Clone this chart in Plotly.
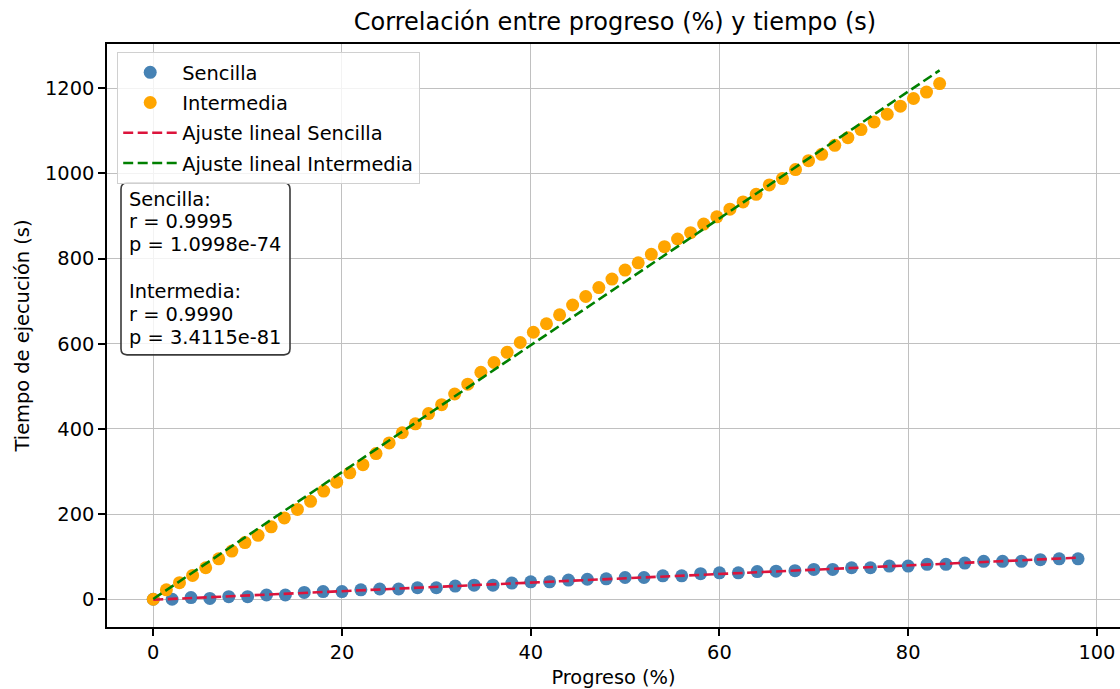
import numpy as np
import plotly.graph_objects as go

# ---------------- data ----------------
sencilla_x = [0, 2, 4, 6, 8, 10, 12, 14, 16, 18, 20, 22, 24, 26, 28, 30, 32, 34, 36, 38,
              40, 42, 44, 46, 48, 50, 52, 54, 56, 58, 60, 62, 64, 66, 68, 70, 72, 74, 76, 78,
              80, 82, 84, 86, 88, 90, 92, 94, 96, 98]
sencilla_y = [0, 0, 4, 2, 6, 6, 10, 10, 16, 18, 18, 22, 24, 24, 27, 27, 31, 33, 33, 38,
              41, 41, 45, 47, 48, 51, 51, 55, 55, 60, 62, 62, 65, 66, 67, 70, 70, 74, 74, 78,
              78, 82, 82, 85, 89, 89, 89, 93, 95, 95]

intermedia_x = [0, 1.39, 2.78, 4.17, 5.56, 6.94, 8.33, 9.72, 11.11, 12.5, 13.89, 15.28,
                16.67, 18.06, 19.44, 20.83, 22.22, 23.61, 25.0, 26.39, 27.78, 29.17, 30.56,
                31.94, 33.33, 34.72, 36.11, 37.5, 38.89, 40.28, 41.67, 43.06, 44.44, 45.83,
                47.22, 48.61, 50.0, 51.39, 52.78, 54.17, 55.56, 56.94, 58.33, 59.72, 61.11,
                62.5, 63.89, 65.28, 66.67, 68.06, 69.44, 70.83, 72.22, 73.61, 75.0, 76.39,
                77.78, 79.17, 80.56, 81.94, 83.33]
intermedia_y = [0, 22, 39, 56, 74, 95, 113, 133, 150, 170, 191, 211, 230, 254, 275, 297,
                316, 342, 367, 391, 412, 436, 457, 482, 505, 533, 556, 580, 603, 627, 647,
                668, 691, 711, 732, 752, 773, 790, 810, 828, 846, 861, 881, 898, 916, 933,
                951, 973, 988, 1009, 1030, 1045, 1066, 1084, 1103, 1121, 1139, 1158, 1176,
                1191, 1211]

stats_lines = ["Sencilla:", "r = 0.9995", "p = 1.0998e-74", "",
               "Intermedia:", "r = 0.9990", "p = 3.4115e-81"]

x_ticks = [0, 20, 40, 60, 80, 100]
y_ticks = [0, 200, 400, 600, 800, 1000, 1200]

# ---------------- linear fits ----------------
xs = np.array(sencilla_x, dtype=float)
ys = np.array(sencilla_y, dtype=float)
xi = np.array(intermedia_x, dtype=float)
yi = np.array(intermedia_y, dtype=float)
ms, bs = np.polyfit(xs, ys, 1)
mi, bi = np.polyfit(xi, yi, 1)

FONT = "DejaVu Sans"
FS = 19.4

# page body margin is removed below, so figure pixels == screen pixels
SL, ST, SB = 107, 44, 627.3          # screen positions of plot left/top/bottom
W, H = 1120, 689
L = SL
T = ST
B = H - SB
R = 0
plot_w = W - L - R
plot_h = H - T - B
PX_PER_X = 9.437                      # horizontal scale
x_lo = -4.9
x_hi = x_lo + plot_w / PX_PER_X


def scr_to_paper(sx, sy):
    return (sx - SL) / plot_w, (SB - sy) / plot_h


fig = go.Figure()
fig.add_trace(go.Scatter(x=sencilla_x, y=sencilla_y, mode="markers", name="Sencilla",
                         legendgroup="a",
                         marker=dict(color="steelblue", size=13, line=dict(width=0))))
fig.add_trace(go.Scatter(x=intermedia_x, y=intermedia_y, mode="markers", name="Intermedia",
                         legendgroup="b",
                         marker=dict(color="orange", size=13, line=dict(width=0))))
fig.add_trace(go.Scatter(x=xs, y=ms * xs + bs, mode="lines", name="Ajuste lineal Sencilla",
                         legendgroup="c",
                         line=dict(color="crimson", width=2.6, dash="10px,4.5px")))
fig.add_trace(go.Scatter(x=xi, y=mi * xi + bi, mode="lines", name="Ajuste lineal Intermedia",
                         legendgroup="d",
                         line=dict(color="green", width=2.6, dash="10px,4.5px")))

# stats box (rounded rectangle + text lines)
bx0, by0 = scr_to_paper(121, 355)
bx1, by1 = scr_to_paper(290, 183)
rx = 6 / plot_w
ry = 6 / plot_h
path = (f"M {bx0+rx},{by0} L {bx1-rx},{by0} Q {bx1},{by0} {bx1},{by0+ry} "
        f"L {bx1},{by1-ry} Q {bx1},{by1} {bx1-rx},{by1} L {bx0+rx},{by1} "
        f"Q {bx0},{by1} {bx0},{by1-ry} L {bx0},{by0+ry} Q {bx0},{by0} {bx0+rx},{by0} Z")
fig.add_shape(type="path", path=path, xref="paper", yref="paper",
              fillcolor="rgba(255,255,255,0.8)", line=dict(color="#3a3a3a", width=1.6),
              layer="above")
line_y = [199.5, 222, 244.5, 268, 291.5, 314.5, 337.5]
for txt, sy in zip(stats_lines, line_y):
    if not txt:
        continue
    ax, ay = scr_to_paper(127, sy)
    fig.add_annotation(x=ax, y=ay, xref="paper", yref="paper", text=txt, showarrow=False,
                       xanchor="left", yanchor="middle",
                       font=dict(family=FONT, size=FS, color="black"))

axis_common = dict(
    showline=True, linecolor="black", linewidth=1.5,
    ticks="outside", ticklen=7, tickwidth=1.5, tickcolor="black",
    showgrid=True, gridcolor="#c0c0c0", gridwidth=1.4,
    zeroline=False,
    tickfont=dict(family=FONT, size=FS, color="black"),
)

fig.update_layout(
    width=W, height=H,
    margin=dict(l=L, r=R, t=T, b=B, autoexpand=False),
    paper_bgcolor="white", plot_bgcolor="white",
    title=dict(text="Correlación entre progreso (%) y tiempo (s)", x=615 / W,
               xref="container", xanchor="center", y=1 - 22 / H, yanchor="middle",
               font=dict(family=FONT, size=24, color="black")),
    xaxis=dict(range=[x_lo, x_hi], tickvals=x_ticks, ticktext=[str(v) for v in x_ticks],
               mirror=True,
               title=dict(text="Progreso (%)", font=dict(family=FONT, size=FS, color="black"),
                          standoff=8),
               **axis_common),
    yaxis=dict(range=[-65.2, 1304], tickvals=y_ticks, ticktext=[str(v) for v in y_ticks],
               title=dict(text="Tiempo de ejecución (s)",
                          font=dict(family=FONT, size=FS, color="black"), standoff=10),
               **axis_common),
    legend=dict(x=(117 - SL) / plot_w, y=(SB - 52) / plot_h, xanchor="left", yanchor="top",
                bgcolor="rgba(255,255,255,0.8)", bordercolor="#d0d0d0", borderwidth=1.2,
                itemwidth=54, tracegroupgap=2,
                font=dict(family=FONT, size=FS, color="black")),
    showlegend=True,
)

fig.write_html("out.html", config={"displayModeBar": False},
               post_script="document.body.style.margin='0';document.body.style.overflow='hidden';")
